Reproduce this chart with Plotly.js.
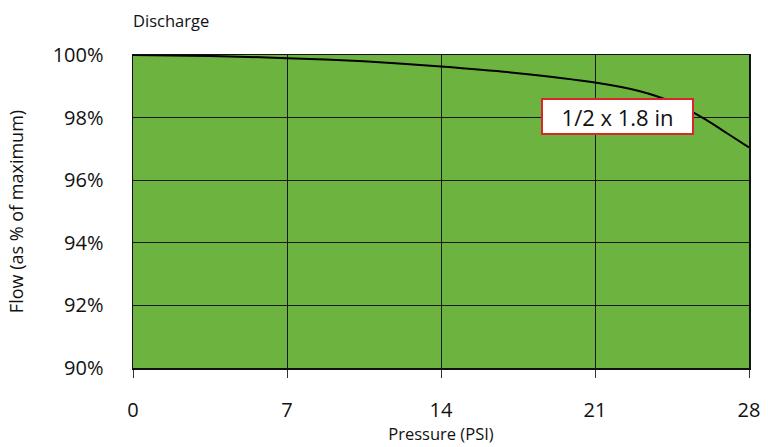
<!DOCTYPE html>
<html><head><meta charset="utf-8">
<script src="https://cdn.plot.ly/plotly-3.0.1.min.js"></script>
<style>html,body{margin:0;padding:0;background:#fff}#chart{width:768px;height:447px}</style>
</head><body><div id="chart"></div>
<script>
const pressure = [0, 3.5, 7, 10.5, 14, 17.5, 21, 23, 24.5, 26, 27, 28];
const flowPct = [100, 99.97, 99.9, 99.8, 99.63, 99.42, 99.12, 98.85, 98.5, 97.95, 97.5, 97.05];
const xTicks = [0, 7, 14, 21, 28];
const yTicks = [90, 92, 94, 96, 98, 100];
const yTickText = ['90%', '92%', '94%', '96%', '98%', '100%'];
const seriesLabel = '1/2 x 1.8 in';

const font = "'Open Sans', 'Noto Sans', sans-serif";
Plotly.newPlot('chart', [{
  x: pressure, y: flowPct, mode: 'lines', type: 'scatter',
  line: {color: '#000', width: 2, shape: 'spline', smoothing: 0.6},
  hoverinfo: 'skip', showlegend: false
}], {
  width: 768, height: 447,
  margin: {l: 133, r: 19, t: 55, b: 79},
  paper_bgcolor: '#fff', plot_bgcolor: '#6db33f',
  font: {family: font, color: '#111'},
  title: {text: 'Discharge', x: 133/768, xanchor: 'left', y: 1 - 21/447, yanchor: 'middle', font: {size: 16.5, family: font, color: '#111'}},
  xaxis: {
    range: [0, 28], tickvals: xTicks, ticktext: xTicks.map(String),
    showgrid: true, gridcolor: '#1a1a1a', gridwidth: 1,
    ticks: 'outside', ticklen: 8, tickcolor: '#333', tickwidth: 1,
    ticklabelstandoff: 15,
    tickfont: {size: 20, family: font, color: '#111'},
    showline: true, linecolor: '#111', linewidth: 1.5, mirror: true,
    zeroline: false, fixedrange: true,
    title: {text: 'Pressure (PSI)', standoff: 4, font: {size: 16.5, family: font, color: '#111'}}
  },
  yaxis: {
    range: [90, 100], tickvals: yTicks, ticktext: yTickText,
    showgrid: true, gridcolor: '#1a1a1a', gridwidth: 1,
    ticks: '', ticklabelstandoff: 24,
    tickfont: {size: 20, family: font, color: '#111'},
    showline: true, linecolor: '#111', linewidth: 1.5, mirror: true,
    zeroline: false, fixedrange: true,
    title: {text: 'Flow (as % of maximum)', standoff: 24, font: {size: 18, family: font, color: '#111'}}
  },
  annotations: [{
    x: 22.02, y: 98.05, xref: 'x', yref: 'y', text: seriesLabel, showarrow: false,
    bgcolor: '#fff', bordercolor: '#d9262b', borderwidth: 2, borderpad: 0,
    width: 149, height: 33,
    font: {size: 22, family: font, color: '#111'}
  }]
}, {displayModeBar: false, staticPlot: true});
</script></body></html>
